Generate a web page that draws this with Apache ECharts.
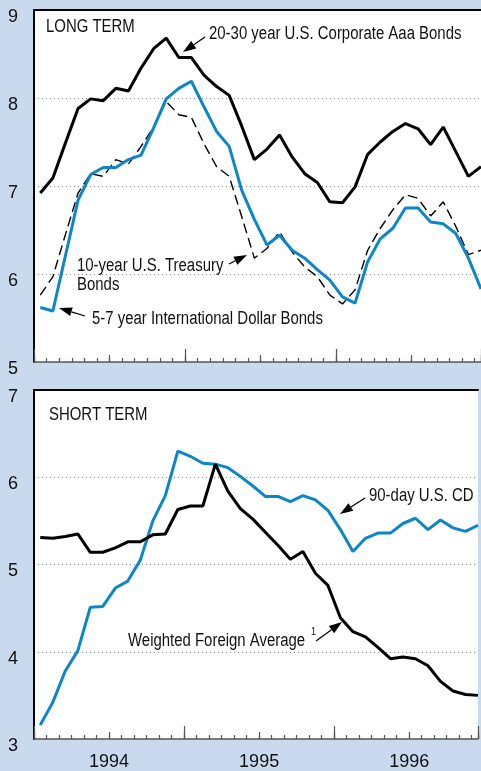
<!DOCTYPE html>
<html>
<head>
<meta charset="utf-8">
<script src="https://cdn.jsdelivr.net/npm/echarts@6/dist/echarts.min.js"></script>
<style>
  html, body { margin: 0; padding: 0; background: #c9d9ee; overflow: hidden; }
  #chart { width: 481px; height: 771px; }
</style>
</head>
<body>
<div id="chart"></div>
<script>
// monthly observations, Jan 1994 .. Dec 1996
const months = [
  "Jan 94", "Feb 94", "Mar 94", "Apr 94", "May 94", "Jun 94",
  "Jul 94", "Aug 94", "Sep 94", "Oct 94", "Nov 94", "Dec 94",
  "Jan 95", "Feb 95", "Mar 95", "Apr 95", "May 95", "Jun 95",
  "Jul 95", "Aug 95", "Sep 95", "Oct 95", "Nov 95", "Dec 95",
  "Jan 96", "Feb 96", "Mar 96", "Apr 96", "May 96", "Jun 96",
  "Jul 96", "Aug 96", "Sep 96", "Oct 96", "Nov 96", "Dec 96",
];
const yearLabels = { 6: "1994", 18: "1995", 30: "1996" };

// long term
const corporateAaa = [6.92, 7.09, 7.49, 7.88, 7.99, 7.97, 8.11, 8.08, 8.34, 8.56, 8.68, 8.46, 8.46, 8.26, 8.13, 8.03, 7.68, 7.30, 7.42, 7.58, 7.33, 7.14, 7.04, 6.82, 6.81, 6.99, 7.36, 7.50, 7.62, 7.71, 7.65, 7.47, 7.67, 7.39, 7.11, 7.22];
const treasury10 = [5.76, 5.97, 6.45, 6.92, 7.14, 7.11, 7.30, 7.25, 7.45, 7.67, 7.96, 7.81, 7.78, 7.48, 7.22, 7.11, 6.65, 6.18, 6.29, 6.48, 6.25, 6.08, 5.97, 5.76, 5.66, 5.82, 6.27, 6.52, 6.73, 6.90, 6.86, 6.66, 6.82, 6.54, 6.22, 6.27];
const intlDollar = [5.62, 5.58, 6.21, 6.84, 7.13, 7.21, 7.21, 7.30, 7.35, 7.66, 7.99, 8.11, 8.19, 7.90, 7.62, 7.45, 6.95, 6.62, 6.33, 6.44, 6.27, 6.18, 6.05, 5.93, 5.74, 5.67, 6.14, 6.40, 6.52, 6.75, 6.75, 6.59, 6.57, 6.46, 6.18, 5.83];

// short term
const cd90 = [3.16, 3.42, 3.78, 4.01, 4.51, 4.52, 4.73, 4.81, 5.05, 5.50, 5.79, 6.30, 6.24, 6.16, 6.15, 6.11, 6.01, 5.90, 5.78, 5.78, 5.72, 5.79, 5.74, 5.62, 5.40, 5.15, 5.30, 5.36, 5.36, 5.47, 5.53, 5.40, 5.51, 5.42, 5.38, 5.45];
const foreignAvg = [5.31, 5.30, 5.32, 5.35, 5.14, 5.14, 5.19, 5.26, 5.26, 5.34, 5.35, 5.63, 5.67, 5.67, 6.15, 5.84, 5.64, 5.52, 5.37, 5.22, 5.06, 5.15, 4.90, 4.76, 4.39, 4.23, 4.17, 4.05, 3.92, 3.94, 3.92, 3.84, 3.66, 3.55, 3.51, 3.50];

const BLUE = "#0b86c8";
const SANS = '"Liberation Sans", Arial, sans-serif';

// x position is mid-month
const toPoints = (vals) => vals.map((v, i) => [months.indexOf(months[i]) + 0.5, v]);

// plot runs a little past the canvas edge, cut mid-November 96
const X_MAX = 35.5;

// stack of x axes per grid: monthly ticks, half-year ticks, year ticks, top border
const makeXAxes = (gridIndex, withLabels) => [
  {
    gridIndex, type: "value", min: 0, max: X_MAX, interval: 1, position: "bottom",
    axisLine: { show: true, onZero: false, lineStyle: { color: "#555", width: 1.5 } },
    axisTick: { show: true, inside: true, length: 4, lineStyle: { color: "#555", width: 1.2 } },
    axisLabel: { show: false }, splitLine: { show: false },
  },
  {
    gridIndex, type: "value", min: 0, max: X_MAX, interval: 6, position: "bottom",
    axisLine: { show: false, onZero: false },
    axisTick: { show: true, inside: true, length: 7, lineStyle: { color: "#555", width: 1.2 } },
    axisLabel: {
      show: withLabels, margin: 14, fontSize: 18, fontFamily: SANS, color: "#111",
      formatter: (v) => yearLabels[v] || "",
    },
    splitLine: { show: false },
  },
  {
    gridIndex, type: "value", min: 0, max: X_MAX, interval: 12, position: "bottom",
    axisLine: { show: false, onZero: false },
    axisTick: { show: true, inside: true, length: 13, lineStyle: { color: "#555", width: 1.2 } },
    axisLabel: { show: false }, splitLine: { show: false },
  },
  {
    gridIndex, type: "value", min: 0, max: X_MAX, position: "top",
    axisLine: { show: true, onZero: false, lineStyle: { color: "#000", width: 2 } },
    axisTick: { show: false }, axisLabel: { show: false }, splitLine: { show: false },
  },
];

const makeYAxis = (gridIndex, min, max) => ({
  gridIndex, type: "value", min, max, interval: 1,
  axisLine: { show: true, onZero: false, lineStyle: { color: "#000", width: 2 } },
  axisTick: { show: false },
  axisLabel: {
    margin: 16, fontSize: 18, fontFamily: SANS, color: "#111",
    verticalAlign: "top", lineHeight: 14,
  },
  splitLine: {
    show: true, showMinLine: false, showMaxLine: false,
    lineStyle: { color: "#888", width: 1, type: [1, 3] },
  },
});

// annotation arrow: thin line with a filled head at (x2, y2)
function arrow(x1, y1, x2, y2) {
  const a = Math.atan2(y2 - y1, x2 - x1);
  const len = 13, hw = 4.5;
  const bx = x2 - len * Math.cos(a), by = y2 - len * Math.sin(a);
  return [
    { type: "line", shape: { x1, y1, x2: bx, y2: by }, style: { stroke: "#000", lineWidth: 1.2 } },
    {
      type: "polygon",
      shape: { points: [[x2, y2], [bx - hw * Math.sin(a), by + hw * Math.cos(a)], [bx + hw * Math.sin(a), by - hw * Math.cos(a)]] },
      style: { fill: "#000" },
    },
  ];
}

// condensed look: squeeze the sans face horizontally
function label(text, x, y, size) {
  return {
    type: "text", x, y, z: 100, scaleX: 0.83,
    style: { text, font: (size || 18) + "px " + SANS, fill: "#111", verticalAlign: "middle", align: "left" },
  };
}

const chart = echarts.init(document.getElementById("chart"));

chart.setOption({
  backgroundColor: "#c9d9ee",
  animation: false,
  grid: [
    { left: 34, top: 10, right: -3, height: 352, show: true, backgroundColor: "#fff", borderWidth: 0 },
    { left: 34, top: 390, right: -3, height: 352, show: true, backgroundColor: "#fff", borderWidth: 0 },
  ],
  xAxis: [...makeXAxes(0, false), ...makeXAxes(1, true)],
  yAxis: [makeYAxis(0, 5, 9), makeYAxis(1, 3, 7)],
  series: [
    {
      name: "10-year U.S. Treasury Bonds", type: "line", xAxisIndex: 0, yAxisIndex: 0,
      data: toPoints(treasury10), symbol: "none",
      lineStyle: { color: "#000", width: 1.4, type: [10, 5] },
    },
    {
      name: "5-7 year International Dollar Bonds", type: "line", xAxisIndex: 0, yAxisIndex: 0,
      data: toPoints(intlDollar), symbol: "none",
      lineStyle: { color: BLUE, width: 3 },
    },
    {
      name: "20-30 year U.S. Corporate Aaa Bonds", type: "line", xAxisIndex: 0, yAxisIndex: 0,
      data: toPoints(corporateAaa), symbol: "none",
      lineStyle: { color: "#000", width: 3 },
    },
    {
      name: "90-day U.S. CD", type: "line", xAxisIndex: 4, yAxisIndex: 1,
      data: toPoints(cd90), symbol: "none",
      lineStyle: { color: BLUE, width: 3 },
    },
    {
      name: "Weighted Foreign Average", type: "line", xAxisIndex: 4, yAxisIndex: 1,
      data: toPoints(foreignAvg), symbol: "none",
      lineStyle: { color: "#000", width: 3 },
    },
  ],
  graphic: [
    label("LONG TERM", 46, 27),
    label("20-30 year U.S. Corporate Aaa Bonds", 209, 34),
    ...arrow(205, 37, 183, 52),
    label("10-year U.S. Treasury", 77, 266),
    label("Bonds", 77, 285),
    ...arrow(229, 264, 247, 255),
    label("5-7 year International Dollar Bonds", 92, 319),
    ...arrow(85, 316, 59, 308),
    label("SHORT TERM", 49, 415),
    label("90-day U.S. CD", 369, 496),
    ...arrow(365, 498, 340, 514),
    label("Weighted Foreign Average", 128, 641),
    label("1", 311, 632, 11),
    ...arrow(316, 641, 342, 622),
  ],
});
</script>
</body>
</html>
